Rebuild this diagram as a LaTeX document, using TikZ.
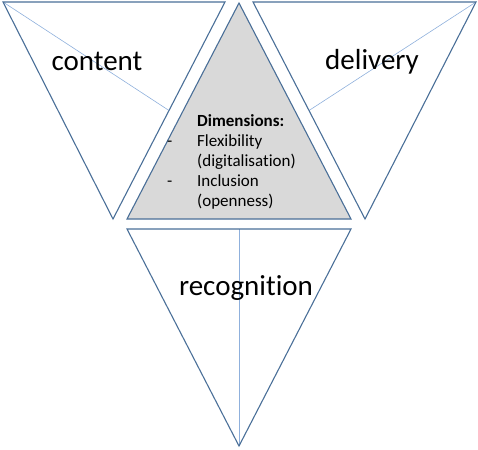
\documentclass[tikz,border=0pt]{standalone}
\usepackage{fontspec}
\setmainfont{Carlito}[Ligatures = NoCommon]
\usetikzlibrary{calc}
\definecolor{edgeblue}{HTML}{4A6F98}
\definecolor{medianblue}{HTML}{8FB0DC}
\definecolor{dimfill}{HTML}{D9D9D9}

\begin{document}
\begin{tikzpicture}[x = 1pt, y = -1pt,
    outline/.style = {draw = edgeblue, line width = 1.1pt, line join = miter},
    median/.style = {draw = medianblue, line width = 0.6pt},
    big/.style = {font = \fontsize{29}{34}\selectfont, inner sep = 0pt, anchor = base}]
    \useasboundingbox (0,0) rectangle (478,449);
    % corners of the four triangles
    \coordinate (CL) at (3,2);     \coordinate (CR) at (225,2);   \coordinate (CB) at (113,219);
    \coordinate (DL) at (253,2);   \coordinate (DR) at (476,2);   \coordinate (DB) at (365,219);
    \coordinate (GT) at (239,3);   \coordinate (GL) at (127,219); \coordinate (GR) at (351,219);
    \coordinate (RL) at (127,229); \coordinate (RR) at (351,229); \coordinate (RB) at (239,446);
    \draw [outline, fill = dimfill] (GT) -- (GR) -- (GL) -- cycle;
    \draw [median] (CL) -- ($(CR)!0.5!(CB)$);
    \draw [median] (DR) -- ($(DL)!0.5!(DB)$);
    \draw [median] ($(RL)!0.5!(RR)$) -- (RB);
    \draw [outline] (CL) -- (CR) -- (CB) -- cycle;
    \draw [outline] (DL) -- (DR) -- (DB) -- cycle;
    \draw [outline] (RL) -- (RR) -- (RB) -- cycle;
    \node (content) [big] at (97,71) {content};
    \node (delivery) [big] at (372,70) {delivery};
    \node (recognition) [big] at (246,295) {recognition};
    \node (dims) [anchor = base west, inner sep = 0pt, font = \fontsize{17}{19.8}\selectfont] at (167,127)
        {\begin{tabular}[t]{@{}p{30pt}@{}l@{}}
            & \textbf{Dimensions:}\\
            - & Flexibility\\
            & (digitalisation)\\
            - & Inclusion\\
            & (openness)
        \end{tabular}};
\end{tikzpicture}
\end{document}
